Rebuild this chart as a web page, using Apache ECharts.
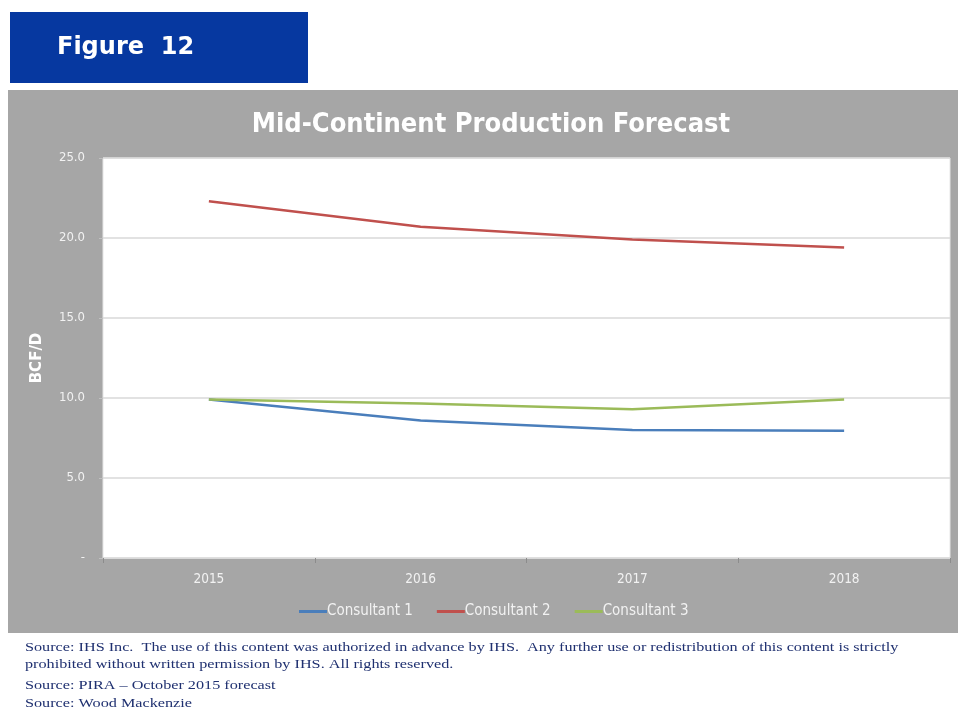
<!DOCTYPE html>
<html>
<head>
<meta charset="utf-8">
<style>
  html, body { margin: 0; padding: 0; background: #ffffff; }
  #chart { width: 958px; height: 713px; }
</style>
<script src="https://cdn.jsdelivr.net/npm/echarts@6/dist/echarts.min.js"></script>
</head>
<body>
<div id="chart"></div>
<script>
// Forecast years and production (BCF/D) per consultant
const years = ['2015', '2016', '2017', '2018'];
const consultant1 = [9.9, 8.6, 8.0, 7.95];
const consultant2 = [22.3, 20.7, 19.9, 19.4];
const consultant3 = [9.9, 9.65, 9.3, 9.9];
const seriesNames = ['Consultant 1', 'Consultant 2', 'Consultant 3'];
const seriesColors = ['#4a7ebb', '#c0504d', '#9bbb59'];
const footnotes = [
  'Source: IHS Inc.  The use of this content was authorized in advance by IHS.  Any further use or redistribution of this content is strictly',
  'prohibited without written permission by IHS. All rights reserved.',
  'Source: PIRA \u2013 October 2015 forecast',
  'Source: Wood Mackenzie'
];

const uiFont = '"DejaVu Sans Condensed", "DejaVu Sans", Verdana, sans-serif';
const chart = echarts.init(document.getElementById('chart'), null, { renderer: 'canvas' });

const footY = [640, 657, 678, 696];

chart.setOption({
  animation: false,
  backgroundColor: '#ffffff',
  graphic: [
    // grey chart panel
    { type: 'rect', z: -10, shape: { x: 8, y: 90, width: 950, height: 543 },
      style: { fill: '#a6a6a6' } },
    // figure tag
    { type: 'rect', z: -10, shape: { x: 10, y: 12, width: 298, height: 71 },
      style: { fill: '#0638a0' } },
    { type: 'text', left: 57, top: 36,
      style: { text: 'Figure  12', fill: '#ffffff', font: 'bold 24px Verdana, "DejaVu Sans", sans-serif' } },
    // y-axis caption
    { type: 'text', x: 37, y: 358, rotation: Math.PI / 2,
      style: { text: 'BCF/D', fill: '#ffffff', font: 'bold 15px "DejaVu Sans", sans-serif',
               textAlign: 'center', textVerticalAlign: 'middle' } }
  ].concat(footnotes.map((t, i) => ({
    type: 'text', x: 25, y: footY[i], scaleX: 1.2,
    style: { text: t, fill: '#1f3070', font: '13.5px "Liberation Serif", "Times New Roman", serif' }
  }))),
  title: {
    text: 'Mid-Continent Production Forecast',
    left: 486, textAlign: 'center', top: 106,
    textStyle: { color: '#ffffff', fontSize: 27, fontWeight: 'bold', fontFamily: uiFont }
  },
  legend: {
    data: seriesNames,
    left: 294, top: 599,
    icon: 'rect', itemWidth: 28, itemHeight: 3, itemGap: 24,
    textStyle: { color: '#f2f2f2', fontSize: 15, fontFamily: uiFont, padding: [0, 0, 0, -5] }
  },
  grid: {
    left: 103, right: 8, top: 158, bottom: 155,
    show: true, backgroundColor: '#ffffff', borderColor: '#e6e6e6', borderWidth: 1
  },
  xAxis: {
    type: 'category', data: years, boundaryGap: true,
    axisLine: { lineStyle: { color: '#d9d9d9' } },
    axisTick: { show: true, length: 5, lineStyle: { color: '#8c8c8c' } },
    axisLabel: { color: '#f2f2f2', fontSize: 13.5, margin: 14, fontFamily: uiFont }
  },
  yAxis: {
    type: 'value', min: 0, max: 25, interval: 5,
    axisLine: { show: false },
    axisTick: { show: true, length: 4, lineStyle: { color: '#bfbfbf' } },
    splitLine: { lineStyle: { color: '#d9d9d9', width: 1.5 } },
    axisLabel: {
      color: '#f2f2f2', fontSize: 13, margin: 18, fontFamily: uiFont,
      formatter: v => (v === 0 ? '-' : v.toFixed(1))
    }
  },
  series: [consultant1, consultant2, consultant3].map((d, i) => ({
    name: seriesNames[i], type: 'line', data: d,
    symbol: 'none', smooth: false,
    lineStyle: { color: seriesColors[i], width: 2.5 },
    itemStyle: { color: seriesColors[i] }
  }))
});
</script>
</body>
</html>
